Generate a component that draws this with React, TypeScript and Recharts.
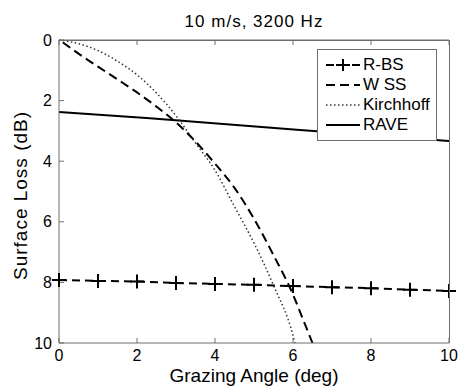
import React from 'react';
import { LineChart, Line, XAxis, YAxis, Label } from 'recharts';

const titleText = '10 m/s, 3200 Hz';
const xLabel = 'Grazing Angle (deg)';
const yLabel = 'Surface Loss (dB)';

const xTicks = [0, 2, 4, 6, 8, 10];
const yTicks = [0, 2, 4, 6, 8, 10];

const seriesNames = ['R-BS', 'W SS', 'Kirchhoff', 'RAVE'];

const rbsAngle = [0, 1, 2, 3, 4, 5, 6, 7, 8, 9, 10];
const rbsLoss = [7.92, 7.95, 7.97, 8.02, 8.05, 8.08, 8.12, 8.16, 8.19, 8.24, 8.28];

const wssAngle = [0.1, 0.5, 1, 1.5, 2, 2.5, 3, 3.5, 4, 4.5, 5, 5.5, 6, 6.25, 6.5];
const wssLoss = [0.08, 0.45, 0.88, 1.3, 1.73, 2.2, 2.72, 3.35, 4.08, 4.88, 5.9, 7.1, 8.4, 9.2, 10];

const kirAngle = [0, 0.5, 1, 1.5, 2, 2.5, 3, 3.5, 4, 4.5, 5, 5.5, 6, 6.05];
const kirLoss = [0, 0.12, 0.35, 0.7, 1.15, 1.75, 2.5, 3.4, 4.3, 5.5, 6.7, 8.1, 9.75, 10];

const raveAngle = [0, 2.33, 3.56, 6.18, 10];
const raveLoss = [2.38, 2.58, 2.71, 2.97, 3.33];

const zip = (xs: number[], ys: number[]) => xs.map((x, i) => ({ x, y: ys[i] }));

const rbsData = zip(rbsAngle, rbsLoss);
const wssData = zip(wssAngle, wssLoss);
const kirData = zip(kirAngle, kirLoss);
const raveData = zip(raveAngle, raveLoss);

const FONT = '"Liberation Sans", Arial, Helvetica, sans-serif';
const AXIS = '#6e6e6e';

const PlusDot = (props: any) => {
  const { cx, cy } = props;
  if (cx == null || cy == null) return null;
  const s = 7;
  return (
    <path
      key={`p-${cx}-${cy}`}
      d={`M${cx - s},${cy}H${cx + s}M${cx},${cy - s}V${cy + s}`}
      stroke="#000"
      strokeWidth={2}
      fill="none"
    />
  );
};

const blank = () => '';

const styles = [
  { dash: '8 5', width: 2, color: '#000', marker: true },
  { dash: '9 5', width: 2, color: '#000', marker: false },
  { dash: '1.5 2.5', width: 1.5, color: '#333', marker: false },
  { dash: undefined, width: 2, color: '#000', marker: false },
];

const LegendBox = () => (
  <div
    style={{
      position: 'absolute',
      left: 317,
      top: 49,
      width: 120,
      boxSizing: 'border-box',
      border: `1px solid ${AXIS}`,
      background: '#fff',
      padding: '5px 0 5px 0',
      fontFamily: FONT,
      fontSize: 17,
      color: '#000',
    }}
  >
    {seriesNames.map((n, i) => (
      <div key={n} style={{ height: 20, display: 'flex', alignItems: 'center' }}>
        <svg width={44} height={20} style={{ display: 'block' }}>
          <line
            x1={8}
            x2={42}
            y1={10}
            y2={10}
            stroke={styles[i].color}
            strokeWidth={styles[i].width}
            strokeDasharray={styles[i].dash}
          />
          {styles[i].marker && (
            <path d="M18,10H32M25,4V16" stroke="#000" strokeWidth={2} />
          )}
        </svg>
        <span style={{ lineHeight: '20px', marginLeft: 1 }}>{n}</span>
      </div>
    ))}
  </div>
);

const YLabelContent = (props: any) => {
  const vb = props.viewBox || {};
  const cx = vb.x + 20;
  const cy = vb.y + vb.height / 2 + 4;
  return (
    <text
      x={cx}
      y={cy}
      transform={`rotate(-90 ${cx} ${cy})`}
      textAnchor="middle"
      dominantBaseline="central"
      fontFamily={FONT}
      fontSize={19}
      letterSpacing={1}
      fill="#000"
    >
      {yLabel}
    </text>
  );
};

export default function App() {
  return (
    <div style={{ position: 'absolute', left: 0, top: 0, width: 458, height: 387, background: '#fff' }}>
      <LineChart width={458} height={387} margin={{ top: 30, right: 9, bottom: 0, left: 0 }}>
        <XAxis
          xAxisId="bottom"
          dataKey="x"
          type="number"
          domain={[0, 10]}
          ticks={xTicks}
          height={44}
          stroke={AXIS}
          tickSize={-5}
          tickMargin={12}
          tick={{ fill: '#000', fontSize: 16, fontFamily: FONT }}
        >
          <Label
            value={xLabel}
            position="insideBottom"
            offset={5}
            style={{ fontSize: 19, fontFamily: FONT, fill: '#000' }}
          />
        </XAxis>
        <XAxis
          xAxisId="top"
          orientation="top"
          dataKey="x"
          type="number"
          domain={[0, 10]}
          ticks={xTicks}
          height={10}
          stroke={AXIS}
          tickSize={-5}
          tickFormatter={blank}
        >
          <Label
            value={titleText}
            position="top"
            offset={3}
            style={{ fontSize: 17, fontFamily: FONT, fill: '#000', letterSpacing: 1 }}
          />
        </XAxis>
        <YAxis
          yAxisId="left"
          type="number"
          domain={[0, 10]}
          ticks={yTicks}
          reversed
          width={59}
          stroke={AXIS}
          tickSize={-5}
          tickMargin={12}
          tick={{ fill: '#000', fontSize: 16, fontFamily: FONT }}
          label={{ content: YLabelContent }}
        />
        <Line
          xAxisId="top"
          yAxisId="left"
          data={raveData}
          dataKey="y"
          stroke="#000"
          strokeWidth={2}
          dot={false}
          isAnimationActive={false}
        />
        <Line
          xAxisId="bottom"
          yAxisId="left"
          data={kirData}
          dataKey="y"
          name="Kirchhoff"
          type="monotone"
          stroke="#333"
          strokeWidth={1.5}
          strokeDasharray="1.5 2.5"
          dot={false}
          isAnimationActive={false}
        />
        <Line
          xAxisId="bottom"
          yAxisId="left"
          data={wssData}
          dataKey="y"
          name="W SS"
          type="monotone"
          stroke="#000"
          strokeWidth={2}
          strokeDasharray="9 5"
          dot={false}
          isAnimationActive={false}
        />
        <Line
          xAxisId="bottom"
          yAxisId="left"
          data={rbsData}
          dataKey="y"
          name="R-BS"
          type="linear"
          stroke="#000"
          strokeWidth={2}
          strokeDasharray="8 5"
          dot={<PlusDot />}
          isAnimationActive={false}
        />
      </LineChart>
      <div
        style={{
          position: 'absolute',
          left: 59,
          top: 40,
          width: 391,
          height: 303,
          boxSizing: 'border-box',
          borderTop: `1px solid ${AXIS}`,
          borderRight: `1px solid ${AXIS}`,
          pointerEvents: 'none',
        }}
      />
      <LegendBox />
    </div>
  );
}
